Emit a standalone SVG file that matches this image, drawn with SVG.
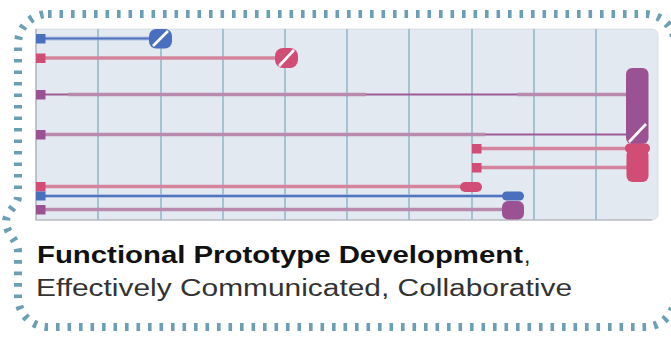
<svg xmlns="http://www.w3.org/2000/svg" width="671" height="338" viewBox="0 0 671 338">
  <style>
    .frame { fill: none; stroke: #6a9fb6; stroke-width: 8; stroke-dasharray: 3.6 7.9; }
    .panel { fill: #e2e9f1; }
    .grid line { stroke: #a3c3d2; stroke-width: 2; }
    .edge { stroke: #a6abb2; stroke-width: 1.2; fill: none; }
    .blue { fill: #4b6fbf; }
    .pink { fill: #d14d75; }
    .purple { fill: #9b5292; }
    .ln-blue { stroke: #5274c0; stroke-width: 2.2; fill: none; }
    .ln-blue-halo { stroke: #9fb2dc; stroke-width: 4; fill: none; opacity: 0.7; }
    .ln-pink { stroke: #d5849d; stroke-width: 3.6; fill: none; }
    .ln-purple { stroke: #b98aae; stroke-width: 3.6; fill: none; }
    .ln-purple-thin { stroke: #9e5a95; stroke-width: 2; fill: none; }
    .slash { stroke: #ffffff; stroke-width: 2.6; stroke-linecap: butt; }
    .title { font-family: "Liberation Sans", Arial, sans-serif; font-size: 23px; }
  </style>

  <!-- dashed outer outline with a small bulge on the left side -->
  <path class="frame" d="M48,14 H645 A30,30 0 0 1 675,44 V297 A30,30 0 0 1 645,327 H48 A30,30 0 0 1 18,297 V252 C18,240 6,234 6,222 C6,211 18,206 18,196 V44 A30,30 0 0 1 48,14 Z"/>

  <!-- chart panel -->
  <g id="panel">
    <path class="panel" d="M36,29 H652 A6,6 0 0 1 658,35 V214 A6,6 0 0 1 652,220 H36 Z" stroke="#d3d8de" stroke-width="0.8"/>
    <g class="grid">
      <line x1="98" y1="29" x2="98" y2="220"/>
      <line x1="161" y1="29" x2="161" y2="220"/>
      <line x1="223" y1="29" x2="223" y2="220"/>
      <line x1="285" y1="29" x2="285" y2="220"/>
      <line x1="347" y1="29" x2="347" y2="220"/>
      <line x1="409" y1="29" x2="409" y2="220"/>
      <line x1="472" y1="29" x2="472" y2="220"/>
      <line x1="534" y1="29" x2="534" y2="220"/>
      <line x1="596" y1="29" x2="596" y2="220"/>
    </g>
    <path class="edge" d="M36,29 V220 H652"/>
  </g>

  <!-- connectors: track lines -->
  <g id="connectors">
    <line class="ln-blue-halo" x1="45" y1="38.5" x2="152" y2="38.5"/>
    <line class="ln-blue" x1="45" y1="38.5" x2="152" y2="38.5"/>
    <line class="ln-pink" x1="45" y1="58" x2="278" y2="58"/>
    <line class="ln-purple-thin" x1="45" y1="94.5" x2="68" y2="94.5"/>
    <line class="ln-purple" x1="68" y1="94.5" x2="366" y2="94.5"/>
    <line class="ln-purple-thin" x1="366" y1="94.5" x2="517" y2="94.5"/>
    <line class="ln-purple" x1="517" y1="94.5" x2="627" y2="94.5"/>
    <line class="ln-purple" x1="45" y1="134.5" x2="485" y2="134.5"/>
    <line class="ln-purple-thin" x1="485" y1="134.5" x2="627" y2="134.5"/>
    <line class="ln-pink" x1="481" y1="148.5" x2="627" y2="148.5"/>
    <line class="ln-pink" x1="481" y1="167.5" x2="627" y2="167.5"/>
    <line class="ln-pink" x1="45" y1="186.5" x2="462" y2="186.5"/>
    <line class="ln-blue-halo" x1="45" y1="196" x2="504" y2="196"/>
    <line class="ln-blue" x1="45" y1="196" x2="504" y2="196"/>
    <line class="ln-purple" x1="45" y1="209.5" x2="504" y2="209.5"/>
  </g>

  <!-- start markers -->
  <g id="start-1"><rect class="blue" x="36" y="34" width="9.5" height="9.5"/></g>
  <g id="start-2"><rect class="pink" x="36" y="53.5" width="9.5" height="9.5"/></g>
  <g id="start-3"><rect class="purple" x="36" y="90" width="9.5" height="9.5"/></g>
  <g id="start-4"><rect class="purple" x="36" y="130" width="9.5" height="9.5"/></g>
  <g id="start-5"><rect class="pink" x="472" y="144" width="9.5" height="9.5"/></g>
  <g id="start-6"><rect class="pink" x="472" y="163" width="9.5" height="9.5"/></g>
  <g id="start-7"><rect class="pink" x="36" y="182" width="9.5" height="9.5"/></g>
  <g id="start-8"><rect class="blue" x="36" y="191.5" width="9.5" height="9"/></g>
  <g id="start-9"><rect class="purple" x="36" y="205" width="9.5" height="9.5"/></g>

  <!-- end markers -->
  <g id="end-1">
    <rect class="blue" x="149" y="29" width="23" height="19.5" rx="7"/>
    <line class="slash" x1="153" y1="46" x2="168" y2="31"/>
  </g>
  <g id="end-2">
    <rect class="pink" x="275" y="48" width="23" height="20" rx="8"/>
    <line class="slash" x1="279" y1="66" x2="294" y2="50"/>
  </g>
  <g id="end-3-4">
    <rect class="purple" x="626" y="68" width="22.5" height="76" rx="6"/>
    <line class="slash" x1="629" y1="142" x2="646" y2="124"/>
  </g>
  <g id="end-5-6">
    <rect class="pink" x="625" y="143.5" width="25" height="9.5" rx="4.5"/>
    <rect class="pink" x="626.5" y="149" width="22" height="33" rx="6"/>
  </g>
  <g id="end-7"><rect class="pink" x="460" y="182" width="22" height="10" rx="5"/></g>
  <g id="end-8"><rect class="blue" x="502" y="191.5" width="22" height="9" rx="4.5"/></g>
  <g id="end-9"><rect class="purple" x="502" y="201" width="22" height="18.5" rx="6"/></g>

  <!-- caption -->
  <g id="caption">
    <text class="title" x="37" y="263" font-weight="bold" fill="#111111" textLength="486" lengthAdjust="spacingAndGlyphs">Functional Prototype Development</text>
    <text class="title" x="524" y="263" fill="#222222">,</text>
    <text class="title" x="36" y="296" fill="#333333" textLength="536" lengthAdjust="spacingAndGlyphs">Effectively Communicated, Collaborative</text>
  </g>
</svg>
